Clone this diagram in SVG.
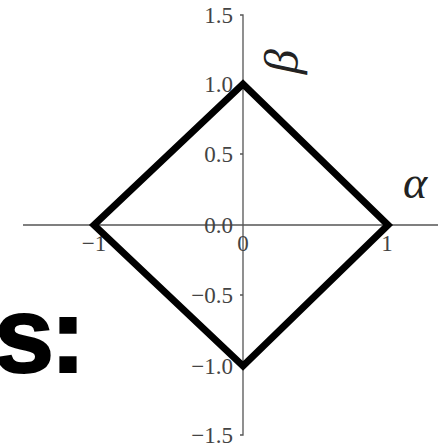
<svg xmlns="http://www.w3.org/2000/svg" width="438" height="448" viewBox="0 0 438 448">
<style>
.ax{stroke:#555;stroke-width:1.3;fill:none}
.tk{font-family:"Liberation Serif",serif;font-size:23px;fill:#444}
.ye{text-anchor:end}
.xm{text-anchor:middle}
.greek{font-family:"Liberation Serif",serif;font-style:italic;fill:#222}
</style>
<rect width="438" height="448" fill="#fff"/>
<g id="big-text">
<text x="-6" y="372" font-family="Liberation Sans, Arial, sans-serif" font-weight="bold" font-size="108" letter-spacing="-4" fill="#000" stroke="#000" stroke-width="2">s:</text>
</g>
<g id="connectors">
<path class="ax" d="M23,225H438"/>
<path class="ax" d="M240,15H243V435H240"/>
<path class="ax" d="M240,84H243M240,154H243M240,295H243M240,366H243"/>
</g>
<g id="tick-labels">
<text class="tk ye" x="233" y="23">1.5</text>
<text class="tk ye" x="233" y="92">1.0</text>
<text class="tk ye" x="233" y="162">0.5</text>
<text class="tk ye" x="233" y="233">0.0</text>
<text class="tk ye" x="233" y="303">−0.5</text>
<text class="tk ye" x="233" y="374">−1.0</text>
<text class="tk ye" x="233" y="443">−1.5</text>
<text class="tk xm" x="94" y="251">−1</text>
<text class="tk xm" x="243" y="251">0</text>
<text class="tk xm" x="387" y="251">1</text>
</g>
<g id="diamond">
<path d="M94,225L243,84L388,225L243,366Z" fill="none" stroke="#000" stroke-width="7" stroke-linejoin="miter"/>
</g>
<g id="alpha">
<text class="greek" x="403" y="198" font-size="46">α</text>
</g>
<g id="beta">
<text class="greek" font-size="48" transform="translate(297,74) rotate(-88)">β</text>
</g>
</svg>
